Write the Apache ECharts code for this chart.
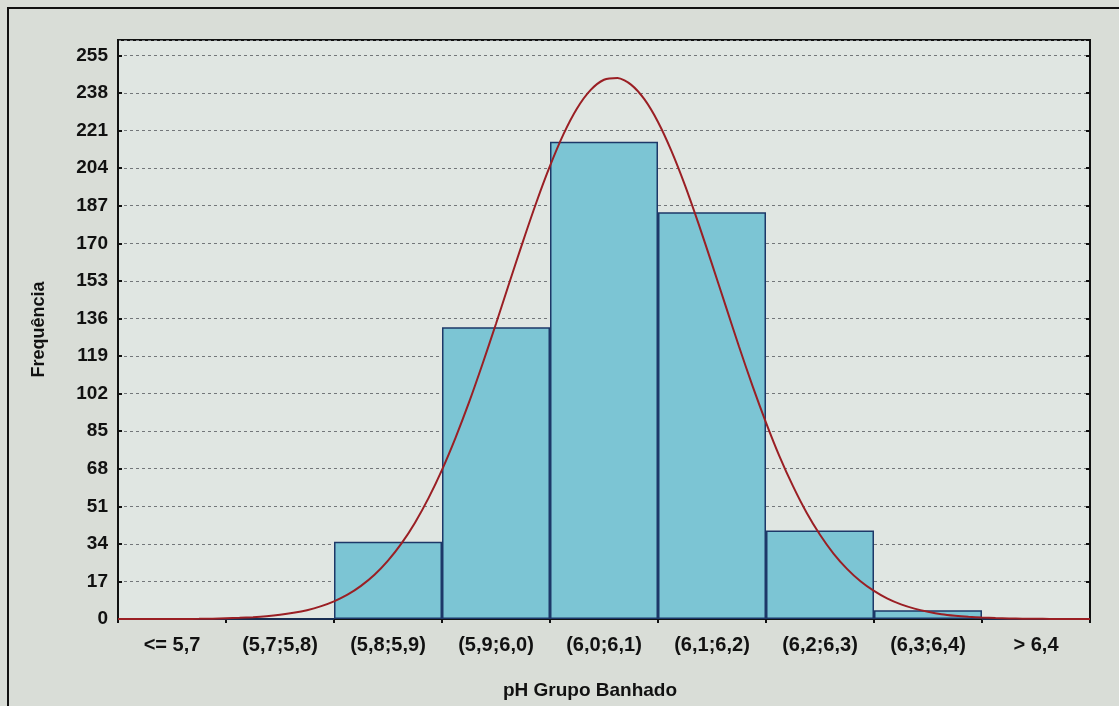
<!DOCTYPE html>
<html>
<head>
<meta charset="utf-8">
<script src="https://cdn.jsdelivr.net/npm/echarts@6/dist/echarts.min.js"></script>
<style>
  html, body { margin: 0; padding: 0; background: #d9ddd7; }
  #chart { width: 1119px; height: 706px; }
</style>
</head>
<body>
<div id="chart"></div>
<script>
// histogram classes and counts
const categories = ['<= 5,7', '(5,7;5,8)', '(5,8;5,9)', '(5,9;6,0)', '(6,0;6,1)', '(6,1;6,2)', '(6,2;6,3)', '(6,3;6,4)', '> 6,4']
const counts = [0, 0, 35, 132, 216, 184, 40, 4, 0]

// fitted curve, x in class units (0..9), step 1/8
const curveX = [
  0, 0.125, 0.25, 0.375, 0.5, 0.625, 0.75, 0.875,
  1.0, 1.125, 1.25, 1.375, 1.5, 1.625, 1.75, 1.875,
  2.0, 2.125, 2.25, 2.375, 2.5, 2.625, 2.75, 2.875,
  3.0, 3.125, 3.25, 3.375, 3.5, 3.625, 3.75, 3.875,
  4.0, 4.125, 4.25, 4.375, 4.5, 4.625, 4.75, 4.875,
  5.0, 5.125, 5.25, 5.375, 5.5, 5.625, 5.75, 5.875,
  6.0, 6.125, 6.25, 6.375, 6.5, 6.625, 6.75, 6.875,
  7.0, 7.125, 7.25, 7.375, 7.5, 7.625, 7.75, 7.875,
  8.0, 8.125, 8.25, 8.375, 8.5, 8.625, 8.75, 8.875, 9.0
]
const curveY = [
  0, 0, 0, 0, 0.01, 0.03, 0.06, 0.15,
  0.34, 0.54, 0.83, 1.26, 1.9, 2.8, 4.0, 5.7,
  8.0, 11.0, 15.0, 20.0, 26.4, 34.2, 43.6, 54.7,
  67.5, 82.0, 98.0, 115.4, 133.6, 152.4, 170.9, 188.7,
  205, 219.4, 231, 239.3, 244, 244.8, 241.8, 235.1,
  224.9, 211.7, 196.2, 178.9, 160.6, 141.9, 123.3, 105.5,
  88.9, 73.6, 60.1, 48.2, 38.1, 29.6, 22.7, 17.1,
  12.7, 9.2, 6.6, 4.7, 3.3, 2.2, 1.5, 1.0,
  0.65, 0.4, 0.25, 0.15, 0.08, 0.05, 0.03, 0.01, 0
]

const yMax = 262
const yStep = 17

const chart = echarts.init(document.getElementById('chart'))

const font = 'Liberation Sans, Arial, sans-serif'

chart.setOption({
  animation: false,
  backgroundColor: '#d9ddd7',
  graphic: [{
    type: 'rect',
    shape: { x: 8, y: 8, width: 1130, height: 720 },
    style: { fill: 'none', stroke: '#111', lineWidth: 2 },
    z: -1
  }],
  grid: {
    left: 118, right: 29, top: 40, bottom: 87,
    show: true, backgroundColor: '#e0e6e2', borderColor: '#111', borderWidth: 2
  },
  xAxis: [
    {
      type: 'category',
      data: categories,
      position: 'bottom',
      name: 'pH Grupo Banhado',
      nameLocation: 'middle',
      nameGap: 62,
      nameTextStyle: { fontFamily: font, fontSize: 19, fontWeight: 'bold', color: '#111', padding: [0, 28, 0, 0] },
      axisLine: { lineStyle: { color: '#111', width: 2 } },
      axisTick: { show: false },
      axisLabel: { fontFamily: font, fontSize: 20, fontWeight: 'bold', color: '#111', margin: 16 }
    },
    {
      type: 'category',
      data: categories,
      position: 'top',
      axisLine: { lineStyle: { color: '#111', width: 2 } },
      axisTick: { show: true, inside: true, length: 4, lineStyle: { color: '#111', width: 2 } },
      axisLabel: { show: false }
    },
    {
      type: 'value',
      min: 0, max: 9,
      show: false
    }
  ],
  yAxis: [
    {
      type: 'value',
      min: 0, max: yMax, interval: yStep,
      name: 'Frequência',
      nameLocation: 'middle',
      nameGap: 70,
      nameTextStyle: { fontFamily: font, fontSize: 18, fontWeight: 'bold', color: '#111' },
      axisLine: { show: true, lineStyle: { color: '#111', width: 2 } },
      axisTick: { show: true, inside: true, length: 4, lineStyle: { color: '#111', width: 2 } },
      axisLabel: { showMaxLabel: false, fontFamily: font, fontSize: 19, fontWeight: 'bold', color: '#111', margin: 10 },
      splitLine: { show: true, lineStyle: { color: '#73777a', type: [3, 3], width: 1 } }
    },
    {
      type: 'value',
      min: 0, max: yMax, interval: yStep,
      position: 'right',
      axisLine: { show: true, lineStyle: { color: '#111', width: 2 } },
      axisTick: { show: true, inside: true, length: 4, lineStyle: { color: '#111', width: 2 } },
      axisLabel: { show: false },
      splitLine: { show: false }
    }
  ],
  series: [
    {
      type: 'bar',
      data: counts,
      xAxisIndex: 0,
      yAxisIndex: 0,
      barCategoryGap: 0,
      itemStyle: { color: '#7cc5d4', borderColor: '#1d3868', borderWidth: 1.5 }
    },
    {
      type: 'line',
      data: curveX.map((x, i) => [x, curveY[i]]),
      xAxisIndex: 2,
      yAxisIndex: 0,
      smooth: 0.25,
      symbol: 'none',
      lineStyle: { color: '#9a1f24', width: 2 },
      z: 5
    }
  ]
})
</script>
</body>
</html>
